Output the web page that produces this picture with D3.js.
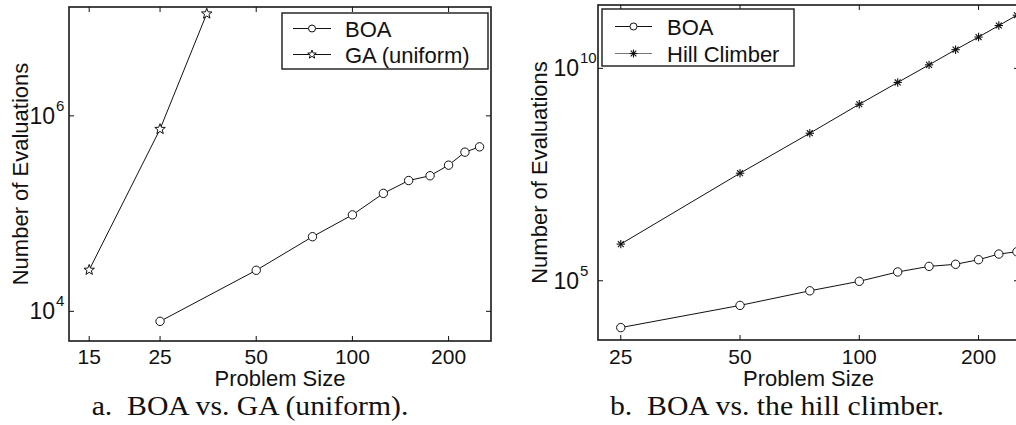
<!DOCTYPE html>
<html>
<head>
<meta charset="utf-8">
<script src="https://cdn.jsdelivr.net/npm/d3@7"></script>
<style>
  body { margin: 0; background: #fff; }
  svg { display: block; }
</style>
</head>
<body>
<svg id="viz" width="1016" height="425"></svg>
<script>
// problem sizes and evaluation counts
const boaSizes = [25, 50, 75, 100, 125, 150, 175, 200, 225, 250];
const boaEvals = [7900, 26300, 58000, 97000, 161000, 218000, 244000, 313000, 425000, 482000];
const gaSizes = [15, 25, 35];
const gaEvals = [26500, 731000, 11100000];
const hillSizes = [25, 50, 75, 100, 125, 150, 175, 200, 225, 250];
const hillEvals = [7.3e5, 3.4e7, 2.97e8, 1.43e9, 4.65e9, 1.21e10, 2.75e10, 5.46e10, 1.02e11, 1.78e11];

const leftXTicks = [15, 25, 50, 100, 200];
const rightXTicks = [25, 50, 100, 200];
const leftYTicks = [1e4, 1e6];
const rightYTicks = [1e5, 1e10];

const svg = d3.select("#viz");
const sans = "'Liberation Sans', Arial, Helvetica, sans-serif";
const serif = "'Liberation Serif', 'Times New Roman', serif";
const ink = "#111";

function circleMarker(g, x, y, r) {
  g.append("circle").attr("cx", x).attr("cy", y).attr("r", r)
    .attr("fill", "#fff").attr("stroke", ink).attr("stroke-width", 1);
}

function starMarker(g, x, y, R) {
  const pts = d3.range(10).map(i => {
    const a = -Math.PI / 2 + i * Math.PI / 5;
    const rr = i % 2 === 0 ? R : R * 0.42;
    return [x + rr * Math.cos(a), y + rr * Math.sin(a)];
  });
  g.append("polygon").attr("points", pts.map(p => p.join(",")).join(" "))
    .attr("fill", "#fff").attr("stroke", ink).attr("stroke-width", 1);
}

function asteriskMarker(g, x, y, R) {
  [0, 45, 90, 135].forEach(deg => {
    const a = deg * Math.PI / 180;
    g.append("line")
      .attr("x1", x - R * Math.cos(a)).attr("y1", y - R * Math.sin(a))
      .attr("x2", x + R * Math.cos(a)).attr("y2", y + R * Math.sin(a))
      .attr("stroke", ink).attr("stroke-width", 1.1);
  });
}

function drawPanel(opt) {
  const g = svg.append("g");
  const x = d3.scaleLog().domain(opt.xDomain).range([opt.left, opt.right]);
  const y = d3.scaleLog().domain(opt.yDomain).range([opt.bottom, opt.top]);
  const tl = 5;

  const clipId = "clip" + opt.id;
  svg.append("clipPath").attr("id", clipId).append("rect")
    .attr("x", opt.left).attr("y", opt.top - 8)
    .attr("width", opt.right - opt.left + 8).attr("height", opt.bottom - opt.top + 8);

  // series
  const line = d3.line().x(d => x(d[0])).y(d => y(d[1]));
  const plot = g.append("g").attr("clip-path", `url(#${clipId})`);
  opt.series.forEach(s => {
    const pts = s.xs.map((v, i) => [v, s.ys[i]]);
    plot.append("path").attr("d", line(pts))
      .attr("fill", "none").attr("stroke", ink).attr("stroke-width", 1);
    pts.forEach(p => s.marker(plot, x(p[0]), y(p[1])));
  });

  // frame
  g.append("rect").attr("x", opt.left).attr("y", opt.top)
    .attr("width", opt.right - opt.left).attr("height", opt.bottom - opt.top)
    .attr("fill", "none").attr("stroke", "#1a1a1a").attr("stroke-width", 1.6);

  // x ticks (bottom and top, inward)
  opt.xTicks.forEach(t => {
    const px = x(t);
    g.append("line").attr("x1", px).attr("x2", px).attr("y1", opt.bottom).attr("y2", opt.bottom - tl)
      .attr("stroke", ink);
    g.append("line").attr("x1", px).attr("x2", px).attr("y1", opt.top).attr("y2", opt.top + tl)
      .attr("stroke", ink);
    g.append("text").attr("x", px).attr("y", 364).attr("text-anchor", "middle")
      .attr("font-family", sans).attr("font-size", 21).attr("fill", ink).text(t);
  });

  // y ticks (left and right, inward)
  opt.yTicks.forEach(t => {
    const py = y(t);
    g.append("line").attr("x1", opt.left).attr("x2", opt.left + tl).attr("y1", py).attr("y2", py)
      .attr("stroke", ink);
    g.append("line").attr("x1", opt.right).attr("x2", opt.right - tl).attr("y1", py).attr("y2", py)
      .attr("stroke", ink);
    g.append("text").attr("x", opt.yLabelX).attr("y", py + 8).attr("text-anchor", "end")
      .attr("font-family", sans).attr("font-size", 23).attr("fill", ink).text("10");
    g.append("text").attr("x", opt.yLabelX + 1).attr("y", py - 5)
      .attr("font-family", sans).attr("font-size", 15).attr("fill", ink)
      .text(Math.round(Math.log10(t)));
  });

  // axis titles
  g.append("text").attr("x", (opt.left + opt.right) / 2).attr("y", 386)
    .attr("text-anchor", "middle").attr("font-family", sans).attr("font-size", 22)
    .attr("fill", ink).text("Problem Size");
  g.append("text")
    .attr("transform", `translate(${opt.yTitleX},${(opt.top + opt.bottom) / 2}) rotate(-90)`)
    .attr("text-anchor", "middle").attr("font-family", sans).attr("font-size", 22)
    .attr("fill", ink).text("Number of Evaluations");

  // caption
  g.append("text")
    .attr("transform", `translate(${opt.captionX},415) scale(1.1,1)`)
    .attr("text-anchor", "middle").attr("font-family", serif).attr("font-size", 27)
    .attr("fill", ink).text(opt.caption);

  // legend
  const L = opt.legend;
  g.append("rect").attr("x", L.x).attr("y", L.y).attr("width", L.w).attr("height", L.h)
    .attr("fill", "#fff").attr("stroke", "#1a1a1a").attr("stroke-width", 1.4);
  L.items.forEach((it, i) => {
    const cy = L.rows[i];
    g.append("line").attr("x1", L.lineX[0]).attr("x2", L.lineX[1]).attr("y1", cy).attr("y2", cy)
      .attr("stroke", it.lineColor).attr("stroke-width", 1.1);
    it.marker(g, (L.lineX[0] + L.lineX[1]) / 2, cy);
    g.append("text").attr("x", L.textX).attr("y", cy + 8)
      .attr("font-family", sans).attr("font-size", 22).attr("fill", ink).text(it.label);
  });
}

drawPanel({
  id: "a",
  left: 69, right: 491, top: 7, bottom: 341,
  xDomain: [12.97, 271.5], yDomain: [4970, 1.3e7],
  xTicks: leftXTicks, yTicks: leftYTicks,
  yLabelX: 55, yTitleX: 28, captionX: 250,
  caption: "a.\u00A0\u00A0BOA vs. GA (uniform).",
  series: [
    { xs: boaSizes, ys: boaEvals, marker: (g, a, b) => circleMarker(g, a, b, 4.2) },
    { xs: gaSizes, ys: gaEvals, marker: (g, a, b) => starMarker(g, a, b, 5.5) }
  ],
  legend: {
    x: 282, y: 13, w: 206, h: 56, rows: [28.5, 54.5], lineX: [293, 331], textX: 345,
    items: [
      { label: "BOA", lineColor: ink, marker: (g, a, b) => circleMarker(g, a, b, 3.5) },
      { label: "GA (uniform)", lineColor: ink, marker: (g, a, b) => starMarker(g, a, b, 4.5) }
    ]
  }
});

drawPanel({
  id: "b",
  left: 598, right: 1019, top: 5, bottom: 340,
  xDomain: [21.9, 253], yDomain: [4030, 3.1e11],
  xTicks: rightXTicks, yTicks: rightYTicks,
  yLabelX: 579, yTitleX: 547, captionX: 777,
  caption: "b.\u00A0\u00A0BOA vs. the hill climber.",
  series: [
    { xs: boaSizes, ys: boaEvals, marker: (g, a, b) => circleMarker(g, a, b, 4.2) },
    { xs: hillSizes, ys: hillEvals, marker: (g, a, b) => asteriskMarker(g, a, b, 4.2) }
  ],
  legend: {
    x: 602, y: 9, w: 192, h: 57, rows: [26.5, 53.5], lineX: [615, 652], textX: 667,
    items: [
      { label: "BOA", lineColor: ink, marker: (g, a, b) => circleMarker(g, a, b, 3.5) },
      { label: "Hill Climber", lineColor: "#777", marker: (g, a, b) => asteriskMarker(g, a, b, 4) }
    ]
  }
});
</script>
</body>
</html>
